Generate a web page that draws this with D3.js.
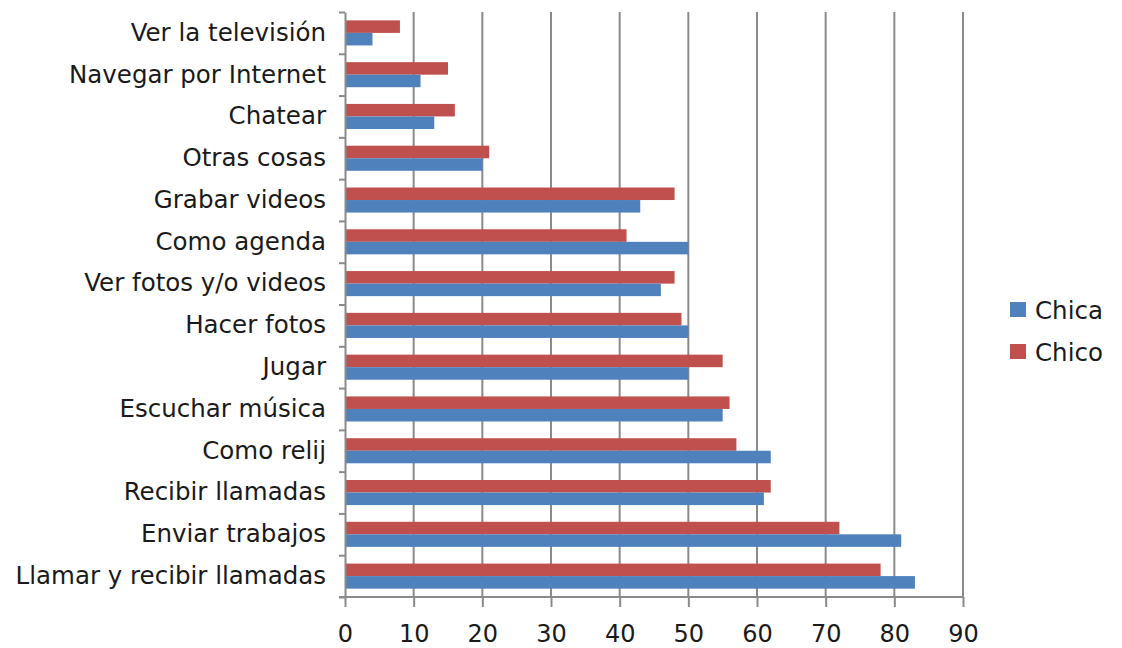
<!DOCTYPE html>
<html lang="es">
<head>
	<meta charset="UTF-8">
	<title>Usos del móvil</title>
	<script src="https://cdn.jsdelivr.net/npm/d3@7/dist/d3.min.js"></script>
	<style>
		html, body{
			margin: 0;
			padding: 0;
			background: #fff;
		}
		svg{
			display: block;
			font-family: "DejaVu Sans", Verdana, sans-serif;
		}
	</style>
</head>
<body>
	<div class="chart"></div>
	<script>
		// categorias de arriba abajo
		var categorias = ['Ver la televisión', 'Navegar por Internet', 'Chatear', 'Otras cosas',
			'Grabar videos', 'Como agenda', 'Ver fotos y/o videos', 'Hacer fotos', 'Jugar',
			'Escuchar música', 'Como relij', 'Recibir llamadas', 'Enviar trabajos',
			'Llamar y recibir llamadas'];
		var chico = [8, 15, 16, 21, 48, 41, 48, 49, 55, 56, 57, 62, 72, 78];
		var chica = [4, 11, 13, 20, 43, 50, 46, 50, 50, 55, 62, 61, 81, 83];
		var xTicks = [0, 10, 20, 30, 40, 50, 60, 70, 80, 90];
		var series = [
			{ name: 'Chico', values: chico, color: '#c0504d' },
			{ name: 'Chica', values: chica, color: '#4f81bd' }
		];
		var legendOrder = ['Chica', 'Chico'];

		var width = 1122;
		var height = 648;
		var plot = { left: 345, right: 963, top: 12, bottom: 597 };

		var xScale = d3.scaleLinear()
						.domain([0, 90])
						.range([plot.left, plot.right]);
		var yScale = d3.scaleBand()
						.domain(categorias)
						.range([plot.top, plot.bottom])
						.paddingInner(0.4)
						.paddingOuter(0.2);
		var subScale = d3.scaleBand()
						.domain(series.map(function(s){ return s.name; }))
						.range([0, yScale.bandwidth()]);
		// para las marcas entre categorias
		var yEdges = d3.scaleLinear()
						.domain([0, categorias.length])
						.range([plot.top, plot.bottom]);

		var svg = d3.select('.chart')
					.append('svg')
					.attr('width', width)
					.attr('height', height);

		// rejilla vertical
		svg.append('g')
			.selectAll('line')
			.data(xTicks.slice(1))
			.enter()
			.append('line')
			.attr('x1', function(d){ return xScale(d); })
			.attr('x2', function(d){ return xScale(d); })
			.attr('y1', plot.top)
			.attr('y2', plot.bottom)
			.attr('stroke', '#8a8a8a')
			.attr('stroke-width', 2);

		// barras
		series.forEach(function(s){
			svg.append('g')
				.selectAll('rect')
				.data(s.values)
				.enter()
				.append('rect')
				.attr('x', xScale(0))
				.attr('y', function(d, i){ return yScale(categorias[i]) + subScale(s.name); })
				.attr('width', function(d){ return xScale(d) - xScale(0); })
				.attr('height', subScale.bandwidth())
				.attr('fill', s.color);
		});

		// eje x
		var xAxis = d3.axisBottom(xScale)
						.tickValues(xTicks)
						.tickSize(10)
						.tickSizeOuter(0)
						.tickPadding(18);
		var gx = svg.append('g')
			.attr('transform', 'translate(0,' + plot.bottom + ')')
			.call(xAxis);
		gx.select('.domain').attr('stroke', '#8a8a8a').attr('stroke-width', 2)
			.attr('d', 'M' + (plot.left - 6) + ',0H' + plot.right);
		gx.selectAll('.tick line').attr('stroke', '#8a8a8a').attr('stroke-width', 2);
		gx.selectAll('.tick text')
			.attr('font-size', 24)
			.attr('font-family', '"DejaVu Sans", sans-serif')
			.attr('fill', '#1a1a1a');

		// eje y: marcas
		var yTickAxis = d3.axisLeft(yEdges)
						.tickValues(d3.range(categorias.length + 1))
						.tickFormat('')
						.tickSize(6)
						.tickSizeOuter(0);
		var gyt = svg.append('g')
			.attr('transform', 'translate(' + plot.left + ',0)')
			.call(yTickAxis);
		gyt.select('.domain').attr('stroke', '#8a8a8a').attr('stroke-width', 2);
		gyt.selectAll('.tick line').attr('stroke', '#8a8a8a').attr('stroke-width', 2);

		// eje y: etiquetas
		var yAxis = d3.axisLeft(yScale)
						.tickSize(0)
						.tickPadding(19);
		var gy = svg.append('g')
			.attr('transform', 'translate(' + plot.left + ',0)')
			.call(yAxis);
		gy.select('.domain').remove();
		gy.selectAll('.tick text')
			.attr('font-size', 24.5)
			.attr('font-family', '"DejaVu Sans", sans-serif')
			.attr('fill', '#1a1a1a');

		// leyenda
		var colorOf = {};
		series.forEach(function(s){ colorOf[s.name] = s.color; });
		var legend = svg.append('g')
			.attr('transform', 'translate(1010,302)')
			.selectAll('g')
			.data(legendOrder)
			.enter()
			.append('g')
			.attr('transform', function(d, i){ return 'translate(0,' + (i * 42) + ')'; });
		legend.append('rect')
			.attr('width', 16)
			.attr('height', 15)
			.attr('fill', function(d){ return colorOf[d]; });
		legend.append('text')
			.attr('x', 25)
			.attr('y', 8)
			.attr('dy', '0.35em')
			.attr('font-size', 24.5)
			.attr('fill', '#1a1a1a')
			.text(function(d){ return d; });
	</script>
</body>
</html>
